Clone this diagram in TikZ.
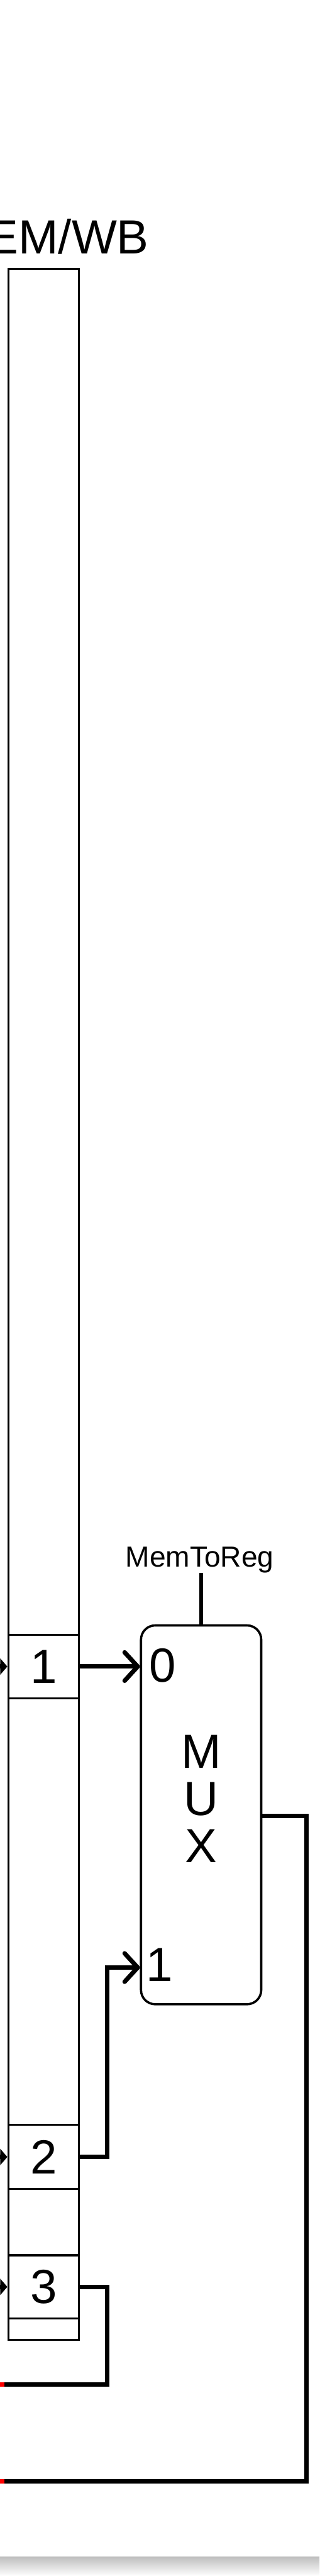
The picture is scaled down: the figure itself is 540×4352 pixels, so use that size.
\documentclass[tikz,border=0pt]{standalone}
\usepackage{fontspec}
\setmainfont{Liberation Sans}
\usetikzlibrary{arrows.meta,calc}
\begin{document}
\begin{tikzpicture}[x=0.5pt,y=-0.5pt,
  regbox/.style={draw, line width=1.7pt, inner sep=0pt, minimum width=59.75pt},
  cellbox/.style={draw, line width=1.7pt, inner sep=0pt, minimum width=59.75pt, font=\fontsize{40.5pt}{40pt}\selectfont},
  muxbox/.style={draw, line width=1.9pt, rounded corners=12pt, inner sep=0pt, minimum width=101.6pt, minimum height=320pt},
  wire/.style={line width=3.75pt},
  barb/.style={-{Straight Barb[length=11pt,width=24pt,round]}},
  feed/.style={-{Triangle[length=6pt,width=13.5pt]}},
  big/.style={font=\fontsize{40.5pt}{40pt}\selectfont, inner sep=0pt},
  endmark/.style={line width=3.75pt, red}
]
\useasboundingbox (0,0) rectangle (540,4352);
\fill[white] (0,0) rectangle (540,4352);
\shade[top color=gray!50, bottom color=white] (0,4320) rectangle (540,4352);

% title
\node[font=\fontsize{40.5pt}{40pt}\selectfont, inner sep=0pt, anchor=base east] (title) at (252,428.3) {MEM/WB};

% pipeline register
\node[regbox, minimum height=1749.25pt] (reg) at (73.85,2203.75) {};
\node[cellbox, minimum height=53.5pt] (c1) at (73.85,2815.5) {1};
\node[cellbox, minimum height=54pt] (c2) at (73.85,3644) {2};
\node[cellbox, minimum height=53.5pt] (c3) at (73.85,3863.5) {3};

% mux
\node[muxbox] (mux) at (339.9,3066) {};
\node[big, align=center] (muxlbl) at (339.9,3039) {M\\U\\X};
\node[big] (lab0) at (275.2,2814) {0};
\node[big] (lab1) at (269.9,3319) {1};
\node[font=\fontsize{24.5pt}{24.5pt}\selectfont, inner sep=0pt, anchor=base] (sel) at (337.5,2647) {MemToReg};
\draw[line width=3.35pt] (mux.north |- sel.south) -- (mux.north);

% incoming feeds
\coordinate (f1) at (-30,2815.5);
\coordinate (f2) at (-30,3644);
\coordinate (f3) at (-30,3863.5);
\draw[wire, feed] (f1) -- (c1.west);
\draw[wire, feed] (f2) -- (c2.west);
\draw[wire, feed] (f3) -- (c3.west);

% wires
\coordinate (in0) at (mux.west |- c1.east);
\path (mux.west) ++(0,258) coordinate (in1);
\draw[wire, barb] (c1.east) -- (in0);
\draw[wire, barb] (c2.east) -- ++(46.2,0) |- (in1);

\coordinate (e3) at (0,4028);
\draw[wire] (c3.east) -- ++(46.2,0) |- (e3);
\draw[endmark] (e3) -- ++(7.6,0);

\path (mux.east) ++(0,2) coordinate (mo);
\coordinate (e4) at (0,4192);
\draw[wire] (mo) -- ++(74.3,0) |- (e4);
\draw[endmark] (e4) -- ++(7.6,0);
\end{tikzpicture}
\end{document}
